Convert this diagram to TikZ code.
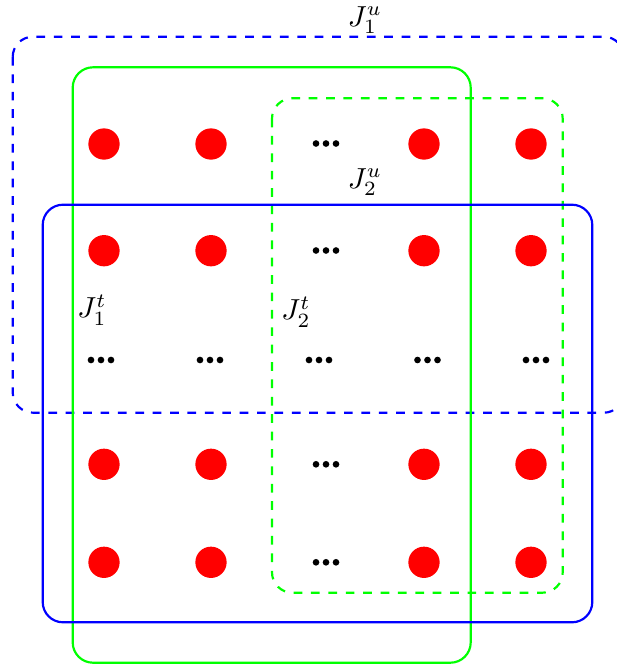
\documentclass[tikz,border=0pt]{standalone}
\begin{document}
\begin{tikzpicture}[x=0.345pt,y=-0.345pt,
  box/.style={line width=0.75pt, rounded corners=7pt},
  reddot/.style={circle, fill=red, minimum size=10.8pt, inner sep=0pt},
  lbl/.style={inner sep=0pt, font=\normalsize},
  ell/.pic={\foreach \d in {-1,0,1} \fill[black] (\d*10,0) circle[radius=1.15pt];}]
\useasboundingbox (0,0) rectangle (616,668);
% boxes
\draw[box, blue, dashed] (12.7,36.7) rectangle (624,412.7);
\draw[box, green] (72.7,67.3) rectangle (470.7,662.7);
\draw[box, green, dashed] (272,98.3) rectangle (562.7,592.7);
\draw[box, blue] (42.7,204.7) rectangle (592.3,622.3);
% red dots
\foreach \x/\c in {104/1,211/2,424/4,531/5}
  \foreach \y/\r in {144/1,250.7/2,464.3/4,562.3/5}
    \node[reddot] (d\r\c) at (\x,\y) {};
% ellipses in column 3
\foreach \y in {143.5,250.5,464.3,562.3}
  \pic at (326,\y) {ell};
% ellipses in middle row
\foreach \x in {101,210,319,427.5,536}
  \pic at (\x,360) {ell};
% labels
\node[lbl] (ju1) at (365,20) {$J_1^u$};
\node[lbl] (ju2) at (365,182) {$J_2^u$};
\node[lbl] (jt1) at (92,310) {$J_1^t$};
\node[lbl] (jt2) at (296,312) {$J_2^t$};
\end{tikzpicture}
\end{document}
